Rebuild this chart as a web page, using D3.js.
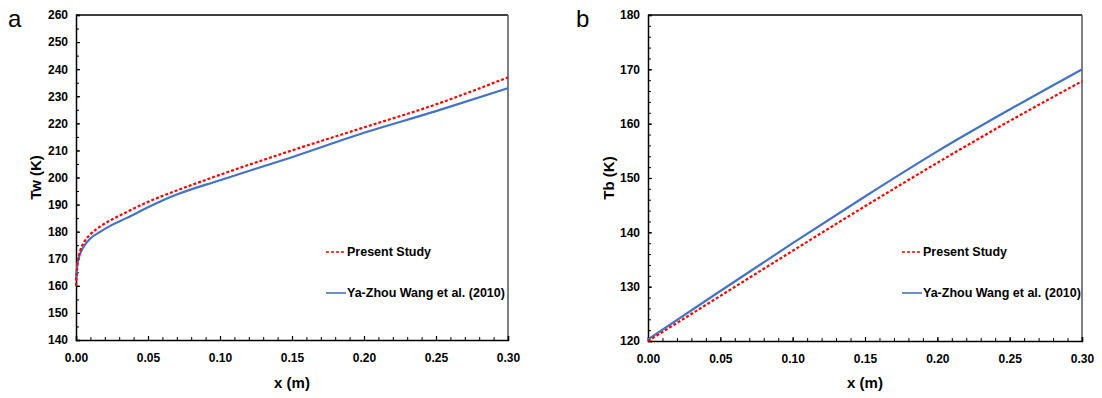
<!DOCTYPE html>
<html>
<head>
<meta charset="utf-8">
<script src="https://cdn.jsdelivr.net/npm/d3@7"></script>
<style>
  body { margin: 0; background: #fff; }
  svg { display: block; }
  .tick text { font-family: "Liberation Sans Narrow", "Arial Narrow", "Liberation Sans", sans-serif; font-weight: bold; font-size: 12px; fill: #000; }
</style>
</head>
<body>
<svg id="chart" width="1102" height="398"></svg>
<script>
// panel a: wall temperature Tw (K) vs x (m)
const twX       = [0, 0.001, 0.003, 0.006, 0.01, 0.017, 0.025, 0.035, 0.05, 0.06, 0.07, 0.10, 0.15, 0.20, 0.25, 0.30];
const twPresent = [160, 168, 173, 176.5, 179, 182, 184.5, 187.2, 191, 193.2, 195.2, 201, 210, 218.5, 227, 237];
const twWang    = [162, 168, 172, 175, 177.5, 180, 182.5, 185, 189, 191.5, 193.7, 199, 207.5, 216.5, 224.5, 233];

// panel b: bulk temperature Tb (K) vs x (m)
const tbX       = [0, 0.05, 0.10, 0.15, 0.20, 0.25, 0.30];
const tbPresent = [120, 128.3, 136.6, 144.8, 152.8, 160.5, 167.8];
const tbWang    = [120.3, 129.2, 138.0, 146.6, 154.9, 162.6, 170.0];

const xTicks    = [0, 0.05, 0.10, 0.15, 0.20, 0.25, 0.30];
const twTicks   = [140, 150, 160, 170, 180, 190, 200, 210, 220, 230, 240, 250, 260];
const tbTicks   = [120, 130, 140, 150, 160, 170, 180];
const seriesNames = ["Present Study", "Ya-Zhou Wang et al. (2010)"];

const svg = d3.select("#chart");

function panel(cfg) {
  const x = d3.scaleLinear().domain([0, 0.30]).range([cfg.left, cfg.right]);
  const y = d3.scaleLinear().domain(cfg.yDomain).range([cfg.bottom, cfg.top]);
  const g = svg.append("g");

  // frame top + right
  g.append("line").attr("x1", cfg.left).attr("x2", cfg.right).attr("y1", cfg.top).attr("y2", cfg.top)
    .attr("stroke", "#000").attr("stroke-width", 1.5);
  g.append("line").attr("x1", cfg.right).attr("x2", cfg.right).attr("y1", cfg.top).attr("y2", cfg.bottom)
    .attr("stroke", "#555").attr("stroke-width", 1.5);

  // minor ticks
  g.append("g").attr("transform", `translate(0,${cfg.bottom})`)
    .call(d3.axisBottom(x).tickValues(d3.range(0, 0.3001, 0.01)).tickSize(-3).tickFormat(""))
    .call(s => s.select(".domain").remove());
  g.append("g").attr("transform", `translate(${cfg.left},0)`)
    .call(d3.axisLeft(y).tickValues(d3.range(cfg.yDomain[0], cfg.yDomain[1] + 0.001, cfg.yMinor)).tickSize(-3).tickFormat(""))
    .call(s => s.select(".domain").remove());

  // major ticks
  const xa = g.append("g").attr("transform", `translate(0,${cfg.bottom})`)
    .call(d3.axisBottom(x).tickValues(xTicks).tickSize(-4).tickPadding(13).tickFormat(d3.format(".2f")));
  const ya = g.append("g").attr("transform", `translate(${cfg.left},0)`)
    .call(d3.axisLeft(y).tickValues(cfg.yTicks).tickSize(-4).tickPadding(8).tickFormat(d3.format("d")));
  [xa, ya].forEach(a => {
    a.select(".domain").attr("stroke", "#000").attr("stroke-width", 1.5);
    a.selectAll(".tick line").attr("stroke", "#000").attr("stroke-width", 1.2);
  });
  g.selectAll(".tick line").attr("stroke", "#000");

  // curves
  const line = d3.line().x(d => x(d[0])).y(d => y(d[1])).curve(d3.curveMonotoneX);
  g.append("path").datum(cfg.xs.map((v, i) => [v, cfg.wang[i]]))
    .attr("d", line).attr("fill", "none")
    .attr("stroke", "#4472C4").attr("stroke-width", 2.2);
  g.append("path").datum(cfg.xs.map((v, i) => [v, cfg.present[i]]))
    .attr("d", line).attr("fill", "none")
    .attr("stroke", "#FF0000").attr("stroke-width", 2.2).attr("stroke-dasharray", "3,2");

  // legend
  const lg = g.append("g").attr("transform", `translate(${cfg.legendX},${cfg.legendY})`);
  [["#FF0000", "3,2"], ["#4472C4", null]].forEach((st, i) => {
    const yy = i * 41;
    lg.append("line").attr("x1", 0).attr("x2", 20).attr("y1", yy).attr("y2", yy)
      .attr("stroke", st[0]).attr("stroke-width", 1.6).attr("stroke-dasharray", st[1]);
    lg.append("text").attr("x", 21).attr("y", yy + 4)
      .attr("font-family", "'Liberation Sans Narrow', 'Arial Narrow', sans-serif")
      .attr("font-weight", "bold").attr("font-size", 12.5).text(seriesNames[i]);
  });

  // axis titles
  g.append("text").attr("x", (cfg.left + cfg.right) / 2).attr("y", 388)
    .attr("text-anchor", "middle").attr("font-family", "'Liberation Sans', Arial, sans-serif")
    .attr("font-weight", "bold").attr("font-size", 15).text("x (m)");
  g.append("text").attr("transform", `translate(${cfg.titleX},${(cfg.top + cfg.bottom) / 2}) rotate(-90)`)
    .attr("text-anchor", "middle").attr("dy", "0.35em").attr("font-family", "'Liberation Sans', Arial, sans-serif")
    .attr("font-weight", "bold").attr("font-size", 15).text(cfg.yTitle);

  // panel letter
  g.append("text").attr("x", cfg.letterX).attr("y", 27)
    .attr("font-family", "'Liberation Sans', Arial, sans-serif").attr("font-size", 24).text(cfg.letter);
}

panel({
  left: 76, right: 508, top: 15, bottom: 340,
  yDomain: [140, 260], yTicks: twTicks, yMinor: 5,
  xs: twX, present: twPresent, wang: twWang,
  legendX: 326, legendY: 252, titleX: 36, yTitle: "Tw (K)",
  letter: "a", letterX: 8
});

panel({
  left: 648, right: 1082, top: 15, bottom: 341,
  yDomain: [120, 180], yTicks: tbTicks, yMinor: 2,
  xs: tbX, present: tbPresent, wang: tbWang,
  legendX: 902, legendY: 252, titleX: 609, yTitle: "Tb (K)",
  letter: "b", letterX: 576
});
</script>
</body>
</html>
